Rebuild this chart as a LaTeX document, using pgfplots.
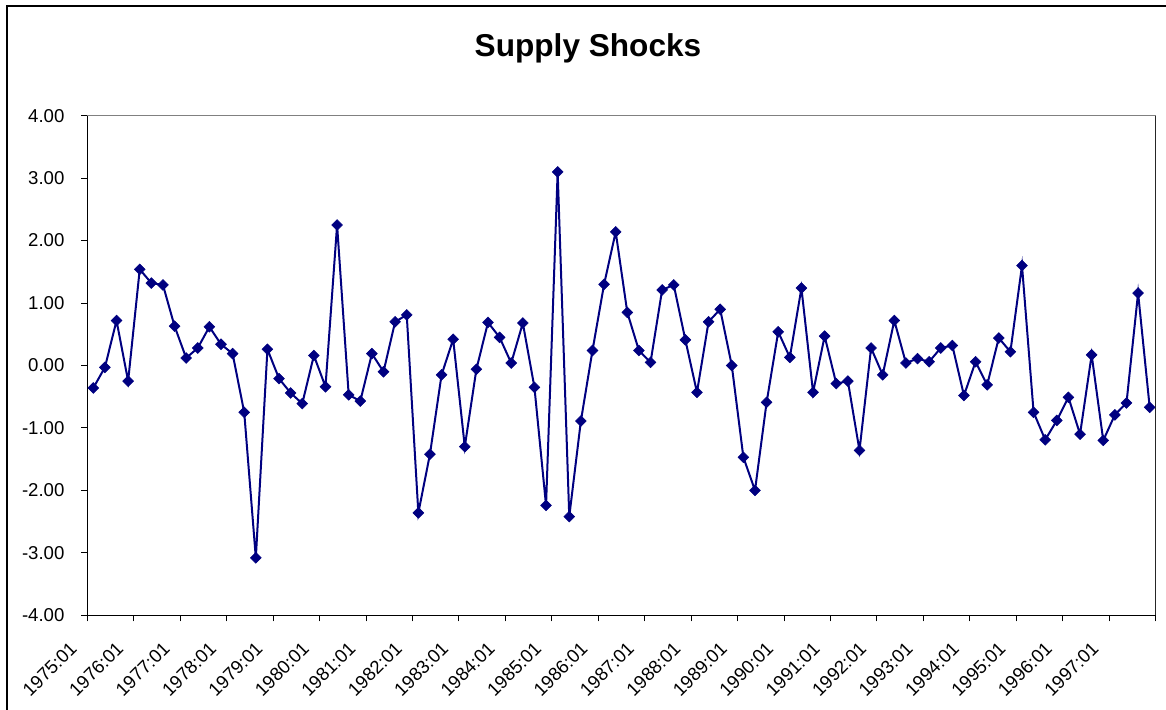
\documentclass[border=0pt]{standalone}
\usepackage{pgfplots}
\pgfplotsset{compat=1.18}
\usepackage{pgfplotstable}
\usepackage{fontspec}
\setmainfont{Liberation Sans}
\definecolor{navyline}{RGB}{0,0,128}
\pgfplotstableread{
x y
0.5 -0.36
1.5 -0.03
2.5 0.72
3.5 -0.25
4.5 1.54
5.5 1.32
6.5 1.29
7.5 0.63
8.5 0.12
9.5 0.28
10.5 0.62
11.5 0.34
12.5 0.19
13.5 -0.75
14.5 -3.08
15.5 0.26
16.5 -0.21
17.5 -0.44
18.5 -0.61
19.5 0.16
20.5 -0.34
21.5 2.25
22.5 -0.47
23.5 -0.57
24.5 0.19
25.5 -0.10
26.5 0.70
27.5 0.81
28.5 -2.36
29.5 -1.42
30.5 -0.15
31.5 0.42
32.5 -1.30
33.5 -0.06
34.5 0.69
35.5 0.45
36.5 0.04
37.5 0.68
38.5 -0.35
39.5 -2.24
40.5 3.10
41.5 -2.42
42.5 -0.89
43.5 0.24
44.5 1.30
45.5 2.14
46.5 0.85
47.5 0.24
48.5 0.05
49.5 1.21
50.5 1.29
51.5 0.41
52.5 -0.43
53.5 0.70
54.5 0.90
55.5 0.00
56.5 -1.47
57.5 -2.00
58.5 -0.59
59.5 0.54
60.5 0.13
61.5 1.24
62.5 -0.43
63.5 0.47
64.5 -0.29
65.5 -0.25
66.5 -1.36
67.5 0.28
68.5 -0.15
69.5 0.72
70.5 0.04
71.5 0.11
72.5 0.06
73.5 0.28
74.5 0.32
75.5 -0.48
76.5 0.06
77.5 -0.31
78.5 0.44
79.5 0.22
80.5 1.60
81.5 -0.75
82.5 -1.19
83.5 -0.88
84.5 -0.51
85.5 -1.10
86.5 0.17
87.5 -1.20
88.5 -0.79
89.5 -0.60
90.5 1.16
91.5 -0.67
}\shocks
\begin{document}
\begin{tikzpicture}
\useasboundingbox (0pt,0pt) rectangle (583pt,-355pt);
\draw[black,line width=0.6pt] (3.5pt,-355pt) -- (3.5pt,-3pt) -- (583pt,-3pt);
\node[anchor=base,font=\fontsize{15.8}{18}\selectfont\bfseries] at (294pt,-28.5pt) {Supply Shocks};
\begin{axis}[
  at={(43.75pt,-57.85pt)}, anchor=north west,
  scale only axis,
  width=534pt, height=249.8pt,
  xmin=0, xmax=92, ymin=-4, ymax=4,
  axis line style={draw=none},
  xtick={0,4,...,92},
  xticklabels={1975:01,1976:01,1977:01,1978:01,1979:01,1980:01,1981:01,1982:01,1983:01,1984:01,1985:01,1986:01,1987:01,1988:01,1989:01,1990:01,1991:01,1992:01,1993:01,1994:01,1995:01,1996:01,1997:01,{}},
  ytick={-4,-3,...,4},
  tick align=outside,
  major tick length=3pt,
  tick style={black,line width=0.5pt},
  xtick pos=bottom, ytick pos=left,
  ticklabel style={font=\fontsize{9.3}{11}\selectfont},
  yticklabel style={xshift=-5pt,/pgf/number format/.cd,fixed,fixed zerofill,precision=2,assume math mode=true},
  xticklabel style={xshift=-4.5pt,yshift=-9.5pt,rotate=45,anchor=east},
  clip=false,
]
\draw[gray,line width=0.5pt] (rel axis cs:0,1) -- (rel axis cs:1,1);
\draw[black!85,line width=0.5pt] (rel axis cs:1,1) -- (rel axis cs:1,0);
\draw[black,line width=0.6pt] (rel axis cs:0,1) -- (rel axis cs:0,0) -- (rel axis cs:1,0);
\addplot[navyline,line width=1pt,mark=square*,mark size=1.9pt,mark options={rotate=45,fill=navyline,draw=navyline,line width=0.3pt}] table[x=x,y=y] {\shocks};
\end{axis}
\end{tikzpicture}
\end{document}
